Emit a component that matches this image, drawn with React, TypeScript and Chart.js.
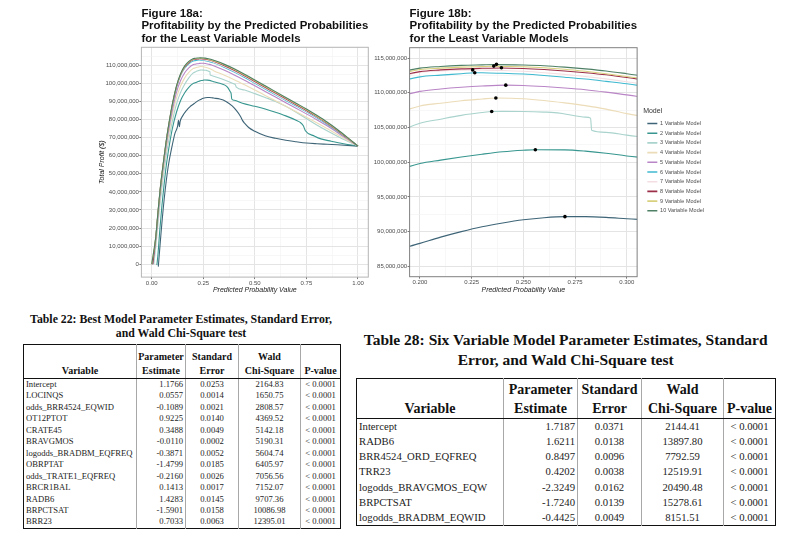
import React, { useEffect, useRef } from 'react';
import { Chart, registerables } from 'chart.js';

Chart.register(...registerables);

const SANS = "'Liberation Sans', Arial, Helvetica, sans-serif";
const SERIF = "'Liberation Serif', 'Times New Roman', Times, serif";

// ---------- chart data: [predicted probability, total profit in $ millions] ----------
const modelNames = [
  '1 Variable Model', '2 Variable Model', '3 Variable Model', '4 Variable Model', '5 Variable Model',
  '6 Variable Model', '7 Variable Model', '8 Variable Model', '9 Variable Model', '10 Variable Model',
];
const modelColors = [
  '#3e6577', '#37968f', '#a9d3cc', '#ecdcb8', '#b985c6',
  '#3fb9cf', '#f3dfe3', '#9c2e48', '#d9d07e', '#4f8066',
];

const model1: [number, number][] = [
  [0.032, -1.3], [0.035, 3], [0.045, 17], [0.06, 35.5], [0.08, 54], [0.1, 66], [0.113, 72.5], [0.125, 76],
  [0.13, 79.5], [0.134, 76], [0.138, 79], [0.15, 82], [0.17, 85.2], [0.185, 87], [0.2, 88.3], [0.21, 89.2],
  [0.22, 90.0], [0.23, 90.7], [0.24, 91.25], [0.25, 91.7], [0.26, 92.0], [0.27, 92.15], [0.28, 92.15],
  [0.29, 92.05], [0.3, 91.85], [0.33, 91.3], [0.36, 90.0], [0.39, 87.5], [0.41, 85.0], [0.43, 81.8],
  [0.44, 79.5], [0.45, 78.0], [0.47, 75.6], [0.5, 73.5], [0.55, 71.0], [0.6, 69.6], [0.65, 68.5],
  [0.7, 67.7], [0.75, 67.0], [0.8, 66.6], [0.85, 66.3], [0.9, 66.0], [0.95, 65.7], [1.0, 65.3],
];
const model2: [number, number][] = [
  [0.025, -0.5], [0.03, 5], [0.04, 20], [0.05, 33], [0.06, 44], [0.07, 54], [0.08, 62], [0.1, 75],
  [0.12, 84], [0.14, 90.5], [0.16, 94.8], [0.18, 97.8], [0.2, 99.8], [0.21, 100.3], [0.22, 100.75],
  [0.23, 101.15], [0.24, 101.5], [0.25, 101.72], [0.256, 101.8], [0.27, 101.78], [0.28, 101.6],
  [0.29, 101.3], [0.3, 100.9], [0.33, 100.0], [0.355, 99.0], [0.37, 97.5], [0.38, 95.5], [0.385, 94.3],
  [0.388, 91.3], [0.4, 90.6], [0.44, 89.0], [0.5, 87.3], [0.55, 85.8], [0.6, 84.0], [0.65, 82.0],
  [0.7, 79.6], [0.72, 78.4], [0.735, 76.5], [0.745, 73.8], [0.79, 70.8], [0.82, 69.3], [0.87, 68.0],
  [0.93, 66.6], [1.0, 65.3],
];
const model3: [number, number][] = [
  [0.01, 0], [0.02, 10], [0.03, 22], [0.04, 33], [0.05, 43], [0.06, 52], [0.07, 60], [0.08, 67], [0.1, 79],
  [0.12, 88.5], [0.14, 95], [0.16, 99.5], [0.18, 103], [0.2, 105.6], [0.21, 106.2], [0.22, 106.75],
  [0.23, 107.15], [0.235, 107.3], [0.24, 107.32], [0.25, 107.3], [0.26, 107.22], [0.265, 107.15],
  [0.27, 106.95], [0.28, 106.5], [0.2825, 106.35], [0.283, 104.6], [0.29, 104.3], [0.3, 103.9],
  [0.35, 102.0], [0.4, 99.6], [0.405, 99.3], [0.41, 97.9], [0.45, 96.3], [0.5, 94.3], [0.55, 92.2],
  [0.6, 90.0], [0.65, 87.3], [0.7, 84.0], [0.75, 80.5], [0.8, 77.0], [0.85, 73.8], [0.9, 70.8],
  [0.95, 68.0], [1.0, 65.3],
];
const model4: [number, number][] = [
  [0.005, 0], [0.02, 13], [0.03, 25], [0.04, 36], [0.05, 46], [0.06, 55], [0.07, 63], [0.08, 70],
  [0.1, 82.5], [0.12, 92], [0.14, 98.5], [0.16, 103], [0.18, 106], [0.2, 108.1], [0.21, 108.5],
  [0.22, 108.85], [0.23, 109.1], [0.2367, 109.25], [0.25, 109.15], [0.26, 108.9], [0.27, 108.55],
  [0.28, 108.15], [0.29, 107.65], [0.3, 107.0], [0.35, 104.6], [0.4, 102.0], [0.45, 99.2], [0.5, 96.3],
  [0.55, 93.3], [0.6, 90.3], [0.65, 87.3], [0.7, 84.3], [0.75, 81.3], [0.8, 78.2], [0.85, 75.0],
  [0.9, 71.7], [0.95, 68.4], [1.0, 65.3],
];
const model5: [number, number][] = [
  [0.005, 0], [0.02, 14], [0.03, 26], [0.04, 38], [0.05, 48], [0.06, 57], [0.07, 65], [0.08, 72.5],
  [0.1, 85], [0.12, 95], [0.14, 101.5], [0.16, 105.8], [0.18, 108.5], [0.2, 110.2], [0.21, 110.55],
  [0.22, 110.8], [0.23, 110.98], [0.2415, 111.1], [0.25, 111.05], [0.26, 110.9], [0.27, 110.7],
  [0.28, 110.45], [0.29, 110.1], [0.3, 109.7], [0.35, 107.3], [0.4, 104.6], [0.45, 101.7], [0.5, 98.6],
  [0.55, 95.5], [0.6, 92.4], [0.65, 89.3], [0.7, 86.2], [0.75, 83.1], [0.8, 79.9], [0.85, 76.5],
  [0.9, 72.8], [0.95, 69.0], [1.0, 65.3],
];
const model6: [number, number][] = [
  [0.005, 0], [0.02, 15], [0.03, 27.5], [0.04, 39.5], [0.05, 49.5], [0.06, 58.5], [0.07, 67], [0.08, 74.5],
  [0.1, 87.5], [0.12, 97.5], [0.14, 104.3], [0.16, 108.3], [0.18, 110.7], [0.2, 112.3], [0.21, 112.55],
  [0.22, 112.75], [0.2265, 112.9], [0.23, 112.88], [0.24, 112.82], [0.25, 112.7], [0.26, 112.5],
  [0.27, 112.25], [0.28, 111.98], [0.29, 111.65], [0.3, 111.3], [0.35, 108.9], [0.4, 106.2], [0.45, 103.2],
  [0.5, 100.0], [0.55, 96.8], [0.6, 93.6], [0.65, 90.5], [0.7, 87.4], [0.75, 84.3], [0.8, 81.0],
  [0.85, 77.4], [0.9, 73.5], [0.95, 69.4], [1.0, 65.3],
];
const model7: [number, number][] = [
  [0.005, 0], [0.02, 15], [0.03, 27.8], [0.04, 39.8], [0.05, 49.8], [0.06, 58.8], [0.07, 67.3], [0.08, 74.8],
  [0.1, 87.8], [0.12, 97.8], [0.14, 104.6], [0.16, 108.8], [0.18, 111.3], [0.2, 112.95], [0.21, 113.15],
  [0.2255, 113.3], [0.23, 113.28], [0.24, 113.22], [0.25, 113.1], [0.26, 112.9], [0.27, 112.65],
  [0.28, 112.35], [0.29, 112.0], [0.3, 111.6], [0.35, 109.3], [0.4, 106.7], [0.45, 103.7], [0.5, 100.5],
  [0.55, 97.3], [0.6, 94.1], [0.65, 90.9], [0.7, 87.8], [0.75, 84.6], [0.8, 81.3], [0.85, 77.7],
  [0.9, 73.7], [0.95, 69.5], [1.0, 65.3],
];
const model8: [number, number][] = [
  [0.005, 0], [0.02, 15], [0.03, 28], [0.04, 40], [0.05, 50], [0.06, 59], [0.07, 67.5], [0.08, 75],
  [0.1, 88], [0.12, 98], [0.14, 104.8], [0.16, 109], [0.18, 111.5], [0.2, 113.05], [0.21, 113.3],
  [0.22, 113.45], [0.23, 113.53], [0.2394, 113.58], [0.25, 113.5], [0.26, 113.35], [0.27, 113.15],
  [0.28, 112.9], [0.29, 112.6], [0.3, 112.2], [0.35, 109.9], [0.4, 107.2], [0.45, 104.2], [0.5, 101.0],
  [0.55, 97.8], [0.6, 94.6], [0.65, 91.4], [0.7, 88.2], [0.75, 85.0], [0.8, 81.6], [0.85, 77.9],
  [0.9, 73.9], [0.95, 69.6], [1.0, 65.3],
];
const model9: [number, number][] = [
  [0, 0], [0.02, 15.2], [0.03, 28.2], [0.04, 40.2], [0.05, 50.2], [0.06, 59.2], [0.07, 67.7], [0.08, 75.2],
  [0.1, 88.2], [0.12, 98.2], [0.14, 105], [0.16, 109.3], [0.18, 111.8], [0.2, 113.35], [0.21, 113.55],
  [0.22, 113.7], [0.23, 113.78], [0.2357, 113.82], [0.24, 113.8], [0.25, 113.75], [0.26, 113.62],
  [0.27, 113.4], [0.28, 113.1], [0.29, 112.75], [0.3, 112.35], [0.35, 110.2], [0.4, 107.6], [0.45, 104.6],
  [0.5, 101.4], [0.55, 98.2], [0.6, 95.0], [0.65, 91.8], [0.7, 88.6], [0.75, 85.4], [0.8, 81.9],
  [0.85, 78.2], [0.9, 74.2], [0.95, 69.8], [1.0, 65.3],
];
const model10: [number, number][] = [
  [0, 0], [0.02, 15.5], [0.03, 28.5], [0.04, 40.5], [0.05, 50.5], [0.06, 59.5], [0.07, 68], [0.08, 75.5],
  [0.1, 88.5], [0.12, 98.5], [0.14, 105.3], [0.16, 109.6], [0.18, 112.1], [0.2, 113.55], [0.21, 113.8],
  [0.22, 113.95], [0.23, 114.02], [0.237, 114.06], [0.25, 114.0], [0.26, 113.9], [0.27, 113.7],
  [0.28, 113.45], [0.29, 113.15], [0.3, 112.75], [0.35, 110.6], [0.4, 108.0], [0.45, 105.0], [0.5, 101.8],
  [0.55, 98.6], [0.6, 95.4], [0.65, 92.2], [0.7, 89.0], [0.75, 85.8], [0.8, 82.3], [0.85, 78.6],
  [0.9, 74.5], [0.95, 70.0], [1.0, 65.3],
];
const models = [model1, model2, model3, model4, model5, model6, model7, model8, model9, model10];

// maximum-profit points per model (Figure 18b)
const peakX = [0.2701, 0.2558, 0.2347, 0.2367, 0.2415, 0.2265, 0.2255, 0.2394, 0.2357, 0.237];
const peakY = [92.15, 101.8, 107.3, 109.25, 111.1, 112.9, 113.3, 113.6, 113.85, 114.1];

// axis ticks
const leftXMajor = [0, 0.25, 0.5, 0.75, 1];
const leftXMinor = [0.125, 0.375, 0.625, 0.875];
const leftYMajor = [0, 10, 20, 30, 40, 50, 60, 70, 80, 90, 100, 110];
const leftYMinor = [-5, 5, 15, 25, 35, 45, 55, 65, 75, 85, 95, 105, 115];
const rightXMajor = [0.2, 0.225, 0.25, 0.275, 0.3];
const rightXMinor = [0.2125, 0.2375, 0.2625, 0.2875];
const rightYMajor = [85, 90, 95, 100, 105, 110, 115];
const rightYMinor = [87.5, 92.5, 97.5, 102.5, 107.5, 112.5];

const titleA = ['Figure 18a:', 'Profitability by the Predicted Probabilities', 'for the Least Variable Models'];
const titleB = ['Figure 18b:', 'Profitability by the Predicted Probabilities', 'for the Least Variable Models'];

// ---------- table data ----------
const tableHeaders = ['Variable', 'Parameter\nEstimate', 'Standard\nError', 'Wald\nChi-Square', 'P-value'];

const t22Title = 'Table 22: Best Model Parameter Estimates, Standard Error,\nand Wald Chi-Square test';
const t22Vars = ['Intercept', 'LOCINQS', 'odds_BRR4524_EQWID', 'OT12PTOT', 'CRATE45', 'BRAVGMOS',
  'logodds_BRADBM_EQFREQ', 'OBRPTAT', 'odds_TRATE1_EQFREQ', 'BRCR1BAL', 'RADB6', 'BRPCTSAT', 'BRR23'];
const t22Est = ['1.1766', '0.0557', '-0.1089', '0.9225', '0.3488', '-0.0110', '-0.3871', '-1.4799', '-0.2160',
  '0.1413', '1.4283', '-1.5901', '0.7033'];
const t22SE = ['0.0253', '0.0014', '0.0021', '0.0140', '0.0049', '0.0002', '0.0052', '0.0185', '0.0026',
  '0.0017', '0.0145', '0.0158', '0.0063'];
const t22Wald = ['2164.83', '1650.75', '2808.57', '4369.52', '5142.18', '5190.31', '5604.74', '6405.97',
  '7056.56', '7152.07', '9707.36', '10086.98', '12395.01'];
const t22P = t22Vars.map(() => '< 0.0001');

const t28Title = 'Table 28: Six Variable Model Parameter Estimates, Standard\nError, and Wald Chi-Square test';
const t28Vars = ['Intercept', 'RADB6', 'BRR4524_ORD_EQFREQ', 'TRR23', 'logodds_BRAVGMOS_EQW', 'BRPCTSAT',
  'logodds_BRADBM_EQWID'];
const t28Est = ['1.7187', '1.6211', '0.8497', '0.4202', '-2.3249', '-1.7240', '-0.4425'];
const t28SE = ['0.0371', '0.0138', '0.0096', '0.0038', '0.0162', '0.0139', '0.0049'];
const t28Wald = ['2144.41', '13897.80', '7792.59', '12519.91', '20490.48', '15278.61', '8151.51'];
const t28P = t28Vars.map(() => '< 0.0001');

// ---------- chart config ----------
const isIn = (arr: number[], v: number) => arr.some((a) => Math.abs(a - v) < 1e-9);

type Cfg = {
  xMin: number; xMax: number; yMin: number; yMax: number;
  xMajor: number[]; xMinor: number[]; yMajor: number[]; yMinor: number[];
  xDigits: number; yTitle: string | null; yWidth: number; yTitlePad: number; xHeight: number;
  title: string[]; titlePadBottom: number; legend: boolean; peaks: boolean; padRight: number;
  borderColor: string;
};

function axisGrid(major: number[]) {
  return {
    color: (ctx: any) => (ctx.tick && isIn(major, ctx.tick.value) ? '#e4e4e4' : '#f2f2f2'),
    lineWidth: (ctx: any) => (ctx.tick && isIn(major, ctx.tick.value) ? 1 : 0.6),
    tickColor: (ctx: any) => (ctx.tick && isIn(major, ctx.tick.value) ? '#555555' : 'rgba(0,0,0,0)'),
    tickLength: 2,
    tickWidth: 0.8,
    drawTicks: true,
  };
}

function makeConfig(cfg: Cfg): any {
  const datasets: any[] = models.map((pts, i) => ({
    label: modelNames[i],
    data: pts.map(([x, y]) => ({ x, y })),
    borderColor: modelColors[i],
    backgroundColor: modelColors[i],
    borderWidth: 1.1,
    pointRadius: 0,
    pointHoverRadius: 0,
    cubicInterpolationMode: 'monotone',
    fill: false,
    order: models.length - i,
    yAxisID: 'y',
  }));
  if (cfg.peaks) {
    datasets.push({
      label: 'peak',
      data: peakX.map((x, i) => ({ x, y: peakY[i] })),
      showLine: false,
      pointRadius: 1.8,
      pointBorderWidth: 0,
      pointBackgroundColor: '#000',
      borderColor: '#000',
      backgroundColor: '#000',
      order: 0,
      yAxisID: 'y',
    });
  }

  const scales: any = {
    x: {
      type: 'linear',
      min: cfg.xMin,
      max: cfg.xMax,
      afterBuildTicks: (s: any) => {
        s.ticks = [...cfg.xMajor, ...cfg.xMinor].sort((a, b) => a - b).map((v) => ({ value: v }));
      },
      afterFit: (s: any) => { s.height = cfg.xHeight; },
      ticks: {
        autoSkip: false, maxRotation: 0, minRotation: 0, padding: 0.5,
        color: '#4d4d4d', font: { family: SANS, size: 6 },
        callback: (v: any) => (isIn(cfg.xMajor, Number(v)) ? Number(v).toFixed(cfg.xDigits) : ''),
      },
      grid: axisGrid(cfg.xMajor),
      border: { display: false },
      title: {
        display: true, text: 'Predicted Probability Value', color: '#222',
        font: { family: SANS, size: 7, style: 'italic' }, padding: { top: 0, bottom: 5.4 },
      },
    },
    y: {
      type: 'linear',
      min: cfg.yMin,
      max: cfg.yMax,
      afterBuildTicks: (s: any) => {
        s.ticks = [...cfg.yMajor, ...cfg.yMinor].sort((a, b) => a - b).map((v) => ({ value: v }));
      },
      afterFit: (s: any) => { s.width = cfg.yWidth; },
      ticks: {
        autoSkip: false, padding: 0.5, color: '#4d4d4d', font: { family: SANS, size: 6 },
        callback: (v: any) => (isIn(cfg.yMajor, Number(v)) ? Math.round(Number(v) * 1e6).toLocaleString('en-US') : ''),
      },
      grid: axisGrid(cfg.yMajor),
      border: { display: false },
      title: cfg.yTitle
        ? { display: true, text: cfg.yTitle, color: '#222', font: { family: SANS, size: 7, style: 'italic' }, padding: { top: cfg.yTitlePad, bottom: 0 } }
        : { display: false },
    },
  };
  if (cfg.legend) {
    scales.yR = {
      type: 'linear', position: 'right', display: true,
      grid: { display: false, drawTicks: false }, ticks: { display: false }, border: { display: false },
      afterFit: (s: any) => { s.width = 6; },
    };
  }

  const panelBorder = {
    id: 'panelBorder',
    afterDatasetsDraw(chart: any) {
      const { ctx, chartArea: a } = chart;
      ctx.save();
      ctx.strokeStyle = cfg.borderColor;
      ctx.lineWidth = 1;
      ctx.strokeRect(a.left, a.top, a.right - a.left, a.bottom - a.top);
      ctx.restore();
    },
  };

  return {
    type: 'line',
    data: { datasets },
    plugins: [panelBorder],
    options: {
      responsive: false,
      animation: false,
      events: [],
      layout: { padding: { left: 0, right: cfg.padRight, top: 0, bottom: 0 } },
      scales,
      plugins: {
        tooltip: { enabled: false },
        title: {
          display: true, text: cfg.title, align: 'start', fullSize: false, color: '#111',
          font: { family: SANS, weight: 'bold', size: 11.5, lineHeight: 1.065 },
          padding: { top: 7.9, bottom: cfg.titlePadBottom },
        },
        legend: cfg.legend
          ? {
              display: true, position: 'right', align: 'center', fullSize: false, maxWidth: 120,
              title: { display: true, text: 'Model', color: '#333', font: { family: SANS, size: 7 }, padding: { top: 1.2, bottom: 0.3 }, position: 'start' },
              labels: {
                usePointStyle: true, pointStyle: 'line', pointStyleWidth: 10, boxHeight: 5.5,
                padding: 4.2, color: '#4d4d4d', font: { family: SANS, size: 5.5 },
                filter: (item: any) => item.datasetIndex < models.length,
                sort: (a: any, b: any) => a.datasetIndex - b.datasetIndex,
                generateLabels: (chart: any) =>
                  (Chart.defaults.plugins.legend.labels.generateLabels as any)(chart).map((l: any) => ({ ...l, lineWidth: 1.6 })),
              },
            }
          : { display: false },
      },
    },
  };
}

function ChartBox(props: { cfg: Cfg; left: number; top: number; width: number; height: number }) {
  const ref = useRef<HTMLCanvasElement | null>(null);
  useEffect(() => {
    const chart = new Chart(ref.current as HTMLCanvasElement, makeConfig(props.cfg));
    return () => chart.destroy();
  }, []);
  return (
    <canvas
      ref={ref}
      width={props.width}
      height={props.height}
      style={{ position: 'absolute', left: props.left, top: props.top, width: props.width, height: props.height }}
    />
  );
}

// ---------- tables ----------
type TableProps = {
  left: number; top: number; colWidths: number[]; headH: number; rowH: number;
  headFont: number; headLH: number; headPadB: number; bodyFont: number; outer: number;
  vars: string[]; est: string[]; se: string[]; wald: string[]; pv: string[];
};

function DataTable(p: TableProps) {
  const total = p.colWidths.reduce((a, b) => a + b, 0);
  const inner = '1px solid #a8a8a8';
  const dark = `${p.outer}px solid #111`;
  const aligns: any[] = ['left', 'right', 'center', 'center', 'center'];
  return (
    <table
      style={{
        position: 'absolute', left: p.left, top: p.top, width: total, borderCollapse: 'collapse',
        tableLayout: 'fixed', border: dark, fontFamily: SERIF, color: '#1c1c1c',
      }}
    >
      <colgroup>
        {p.colWidths.map((w, i) => <col key={i} style={{ width: w }} />)}
      </colgroup>
      <thead>
        <tr style={{ height: p.headH }}>
          {tableHeaders.map((h, i) => (
            <th
              key={i}
              style={{
                borderBottom: dark, borderLeft: i ? inner : undefined, verticalAlign: 'bottom',
                fontSize: p.headFont, lineHeight: `${p.headLH}px`, padding: 0, paddingBottom: p.headPadB,
                fontWeight: 'bold', textAlign: 'center', whiteSpace: 'pre', color: '#111',
              }}
            >
              {h}
            </th>
          ))}
        </tr>
      </thead>
      <tbody>
        {p.vars.map((v, r) => {
          const cells = [v, p.est[r], p.se[r], p.wald[r], p.pv[r]];
          return (
            <tr key={r} style={{ height: p.rowH }}>
              {cells.map((c, i) => (
                <td
                  key={i}
                  style={{
                    borderLeft: i ? inner : undefined, padding: 0,
                    paddingLeft: i === 0 ? 2 : 0, paddingRight: i === 1 ? 2 : 0,
                    fontSize: p.bodyFont, lineHeight: `${p.rowH}px`, height: p.rowH,
                    textAlign: aligns[i], whiteSpace: 'nowrap', overflow: 'hidden',
                  }}
                >
                  {c}
                </td>
              ))}
            </tr>
          );
        })}
      </tbody>
    </table>
  );
}

const leftCfg: Cfg = {
  xMin: -0.05, xMax: 1.05, yMin: -7.1, yMax: 119.9,
  xMajor: leftXMajor, xMinor: leftXMinor, yMajor: leftYMajor, yMinor: leftYMinor,
  xDigits: 2, yTitle: 'Total Profit ($)', yWidth: 53.4, yTitlePad: 9.5, xHeight: 22.9,
  title: titleA, titlePadBottom: 2.65, legend: false, peaks: false, padRight: 9.7, borderColor: '#b5b5b5',
};
const rightCfg: Cfg = {
  xMin: 0.195, xMax: 0.305, yMin: 83.5, yMax: 116.5,
  xMajor: rightXMajor, xMinor: rightXMinor, yMajor: rightYMajor, yMinor: rightYMinor,
  xDigits: 3, yTitle: null, yWidth: 41.6, yTitlePad: 0, xHeight: 23.3,
  title: titleB, titlePadBottom: 3.05, legend: true, peaks: true, padRight: 16, borderColor: '#808080',
};

export default function App() {
  return (
    <div style={{ position: 'absolute', left: 0, top: 0, width: 805, height: 541, background: '#ffffff', overflow: 'hidden' }}>
      <ChartBox cfg={leftCfg} left={88} top={0} width={290} height={300} />
      <ChartBox cfg={rightCfg} left={368} top={0} width={362} height={300} />

      <div
        style={{
          position: 'absolute', left: 0, top: 311.8, width: 362, textAlign: 'center', fontFamily: SERIF,
          fontWeight: 'bold', fontSize: 11.8, lineHeight: '14.3px', whiteSpace: 'pre', color: '#111',
        }}
      >
        {t22Title}
      </div>
      <DataTable
        left={23} top={344} colWidths={[113, 49, 53, 62, 40]} headH={34} rowH={11.46}
        headFont={10} headLH={13.3} headPadB={1} bodyFont={8.6} outer={1.5}
        vars={t22Vars} est={t22Est} se={t22SE} wald={t22Wald} pv={t22P}
      />

      <div
        style={{
          position: 'absolute', left: 345.7, top: 330, width: 440, textAlign: 'center', fontFamily: SERIF,
          fontWeight: 'bold', fontSize: 15.5, lineHeight: '20px', whiteSpace: 'pre', color: '#111',
        }}
      >
        {t28Title}
      </div>
      <DataTable
        left={356} top={378} colWidths={[147, 74, 64, 82, 52]} headH={40} rowH={15.14}
        headFont={14} headLH={18.5} headPadB={0} bodyFont={10.7} outer={1.8}
        vars={t28Vars} est={t28Est} se={t28SE} wald={t28Wald} pv={t28P}
      />
    </div>
  );
}
